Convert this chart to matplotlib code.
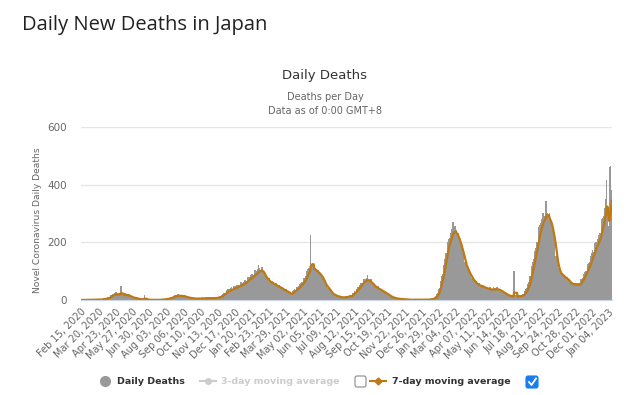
import numpy as np
import pandas as pd
import matplotlib
matplotlib.use("Agg")
import matplotlib.pyplot as plt
from matplotlib.patches import FancyBboxPatch

plt.rcParams['font.family'] = ['DejaVu Sans']

start_date = '2020-02-15'
tick_step = 34  # one x label every 34 days

# daily deaths, one row per week (weeks start on a Saturday)
deaths_2020 = [
    [0, 0, 0, 0, 1, 0, 0], [0, 1, 0, 1, 0, 1, 0], [1, 0, 1, 2, 0, 1, 1],
    [1, 0, 1, 1, 2, 1, 0], [2, 1, 1, 2, 1, 2, 2], [1, 2, 1, 2, 1, 2, 1],
    [2, 1, 3, 4, 3, 4, 5], [4, 5, 4, 7, 8, 6, 9], [10, 9, 8, 14, 16, 17, 18],
    [15, 18, 16, 22, 24, 21, 25], [18, 14, 13, 20, 22, 19, 21], [20, 17, 48, 22, 14, 18, 17],
    [19, 15, 12, 20, 22, 18, 20], [16, 12, 11, 17, 18, 14, 15], [11, 8, 7, 10, 11, 8, 9],
    [7, 5, 4, 6, 8, 6, 5], [4, 2, 3, 3, 4, 2, 3], [2, 3, 1, 3, 2, 4, 3],
    [17, 1, 2, 1, 2, 1, 0], [1, 0, 1, 2, 1, 1, 1], [0, 1, 1, 1, 2, 1, 1],
    [0, 0, 1, 1, 0, 1, 0], [1, 0, 1, 1, 2, 1, 1], [1, 2, 1, 3, 2, 3, 2],
    [3, 2, 3, 5, 5, 4, 6], [5, 4, 6, 8, 9, 7, 10], [9, 8, 10, 13, 15, 14, 15],
    [12, 14, 11, 17, 18, 15, 16], [15, 12, 10, 16, 17, 14, 15], [13, 9, 8, 12, 14, 11, 12],
    [10, 7, 6, 9, 9, 8, 7], [7, 5, 4, 6, 8, 6, 6], [6, 4, 3, 5, 6, 5, 6],
    [5, 4, 4, 6, 6, 5, 5], [6, 4, 3, 5, 7, 5, 5], [5, 4, 5, 7, 7, 6, 8],
    [6, 5, 4, 7, 8, 6, 6], [7, 5, 4, 6, 7, 6, 7], [6, 5, 6, 8, 9, 7, 8],
    [9, 7, 8, 11, 12, 11, 13], [14, 12, 13, 20, 22, 21, 24], [24, 22, 21, 30, 33, 31, 35],
    [33, 28, 27, 38, 40, 36, 42], [38, 34, 30, 44, 47, 41, 46], [43, 37, 35, 50, 52, 48, 51],
    [50, 42, 40, 56, 60, 55, 58],
]
deaths_2021 = [
    [54, 48, 45, 62, 68, 63, 66], [64, 56, 53, 74, 79, 73, 77], [75, 64, 60, 84, 90, 85, 88],
    [84, 72, 70, 95, 102, 96, 99], [94, 80, 78, 106, 118, 104, 108], [102, 88, 84, 110, 112, 104, 100],
    [90, 72, 66, 84, 88, 80, 80], [70, 58, 52, 70, 74, 66, 65], [60, 50, 46, 62, 64, 58, 59],
    [53, 44, 40, 55, 56, 51, 51], [46, 38, 35, 48, 50, 45, 46], [40, 32, 29, 40, 41, 36, 34],
    [32, 26, 24, 33, 35, 30, 30], [26, 20, 17, 24, 25, 22, 20], [24, 21, 20, 30, 33, 32, 36],
    [34, 30, 29, 41, 45, 42, 45], [46, 40, 38, 54, 58, 55, 59], [60, 52, 50, 70, 75, 72, 76],
    [82, 74, 70, 98, 105, 98, 103], [108, 96, 90, 225, 118, 112, 116], [112, 96, 90, 110, 118, 108, 104],
    [100, 86, 82, 100, 104, 96, 94], [88, 74, 70, 84, 86, 80, 78], [66, 52, 46, 58, 60, 52, 50],
    [44, 36, 32, 40, 42, 36, 34], [28, 22, 18, 24, 24, 20, 19], [18, 14, 12, 16, 17, 14, 14],
    [13, 10, 9, 12, 12, 10, 11], [10, 8, 7, 10, 10, 9, 9], [10, 8, 8, 11, 12, 10, 11],
    [12, 10, 9, 13, 14, 12, 14], [16, 14, 15, 22, 24, 23, 26], [28, 25, 24, 36, 38, 38, 42],
    [44, 38, 36, 52, 56, 54, 58], [58, 52, 50, 68, 72, 68, 71], [66, 58, 55, 74, 86, 72, 70],
    [66, 54, 50, 66, 70, 62, 60], [54, 44, 40, 52, 54, 46, 46], [44, 36, 32, 42, 46, 40, 40],
    [36, 30, 27, 36, 37, 32, 33], [28, 22, 20, 28, 29, 25, 23], [21, 16, 14, 20, 20, 17, 16],
    [13, 9, 8, 11, 11, 9, 9], [8, 5, 5, 7, 7, 5, 5], [5, 3, 3, 4, 5, 4, 4],
    [3, 2, 2, 4, 3, 3, 3], [2, 1, 1, 3, 2, 2, 2], [1, 1, 0, 2, 1, 1, 1],
    [1, 0, 1, 1, 2, 1, 1], [1, 1, 0, 1, 1, 2, 1], [0, 1, 1, 1, 2, 1, 1],
    [1, 0, 1, 1, 1, 2, 1],
]
deaths_2022 = [
    [1, 1, 0, 1, 2, 1, 2], [2, 1, 1, 3, 2, 3, 3], [4, 3, 3, 5, 6, 6, 8],
    [10, 11, 12, 18, 22, 24, 29], [36, 38, 40, 56, 64, 70, 80], [90, 86, 90, 120, 132, 140, 150],
    [160, 150, 150, 190, 200, 205, 210], [215, 190, 185, 230, 245, 235, 240], [268, 215, 200, 240, 255, 245, 240],
    [235, 200, 185, 220, 230, 215, 210], [200, 165, 150, 180, 185, 170, 165], [150, 120, 110, 130, 132, 118, 115],
    [110, 90, 80, 98, 100, 94, 90], [85, 68, 62, 76, 78, 70, 68], [66, 54, 50, 60, 64, 57, 55],
    [56, 46, 42, 52, 56, 50, 48], [50, 42, 38, 47, 50, 45, 44], [46, 36, 34, 42, 45, 40, 39],
    [40, 34, 30, 39, 42, 37, 36], [38, 32, 30, 38, 42, 38, 36], [40, 34, 32, 40, 42, 36, 35],
    [38, 30, 28, 35, 36, 32, 30], [28, 22, 20, 26, 27, 23, 22], [20, 16, 14, 18, 19, 16, 16],
    [15, 12, 11, 14, 14, 12, 13], [14, 11, 12, 100, 13, 12, 13], [14, 11, 10, 14, 15, 13, 14],
    [13, 11, 11, 15, 17, 16, 18], [18, 17, 18, 26, 30, 30, 36], [40, 36, 38, 54, 60, 60, 68],
    [80, 72, 76, 105, 118, 120, 130], [140, 128, 130, 170, 180, 180, 190], [200, 185, 190, 235, 250, 250, 260],
    [265, 230, 225, 280, 300, 290, 300], [290, 250, 245, 310, 343, 310, 300], [300, 255, 240, 290, 300, 280, 270],
    [270, 220, 200, 240, 240, 220, 210], [190, 150, 130, 150, 140, 125, 120], [110, 88, 80, 100, 100, 92, 90],
    [92, 76, 70, 86, 88, 80, 80], [80, 66, 62, 76, 78, 72, 70], [68, 54, 50, 60, 62, 56, 56],
    [60, 50, 46, 56, 58, 54, 54], [58, 48, 45, 56, 58, 52, 54], [56, 52, 50, 64, 70, 68, 72],
    [76, 70, 68, 88, 96, 94, 100], [100, 92, 90, 116, 124, 120, 128], [130, 120, 118, 150, 162, 160, 170],
    [165, 150, 145, 180, 195, 190, 200], [195, 180, 175, 210, 225, 220, 230], [230, 215, 210, 260, 280, 270, 285],
    [290, 270, 265, 320, 350, 330, 416], [320, 250, 180, 160, 260, 420, 462],
]
deaths_2023 = [[430, 380, 300]]

daily = [v for rows in (deaths_2020, deaths_2021, deaths_2022, deaths_2023)
         for row in rows for v in row]
dates = pd.date_range(start_date, periods=len(daily), freq='D')
deaths = pd.Series(daily, index=dates)
avg7 = deaths.rolling(7, min_periods=1).mean()

W, H = 640, 395
fig = plt.figure(figsize=(W / 100, H / 100), dpi=100)

# page title and chart titles
fig.text(22 / W, 1 - 25 / H, 'Daily New Deaths in Japan', fontsize=14.5,
         family='Open Sans', color='#222222', va='center')
fig.text(325 / W, 1 - 76 / H, 'Daily Deaths', fontsize=9.5, color='#333333',
         ha='center', va='center')
fig.text(325 / W, 1 - 97 / H, 'Deaths per Day', fontsize=7, color='#666666',
         ha='center', va='center')
fig.text(325 / W, 1 - 111 / H, 'Data as of 0:00 GMT+8', fontsize=7, color='#666666',
         ha='center', va='center')

ax = fig.add_axes([81 / W, 1 - 300 / H, (612 - 81) / W, (300 - 127) / H])
x = np.arange(len(daily))
# bars are only half a pixel wide here: no snapping and no antialiasing,
# so every pixel column shows one solid bar like the reference
ax.bar(x, deaths.values, width=1.0, color='#999999', linewidth=0, snap=False,
       antialiased=False)
ax.plot(x, avg7.values, color='#c07810', lw=1.6)

ax.set_xlim(-0.5, len(daily) - 0.5)
ax.set_ylim(0, 600)
ax.set_yticks([0, 200, 400, 600])
ax.grid(axis='y', color='#e6e6e6', lw=1)
ax.set_axisbelow(True)
for side in ['top', 'right', 'left']:
    ax.spines[side].set_visible(False)
ax.spines['bottom'].set_color('#ccd6eb')
ax.tick_params(axis='y', length=0, colors='#666666', labelsize=7.5, pad=10)

ticks = x[::tick_step]
ax.set_xticks(ticks)
ax.set_xticklabels([d.strftime('%b %d, %Y') for d in dates[ticks]], rotation=45,
                   ha='right', va='top', rotation_mode='anchor', fontsize=7, color='#666666')
ax.tick_params(axis='x', length=0, pad=5)

fig.text(38 / W, 1 - 220 / H, 'Novel Coronavirus Daily Deaths', rotation=90, fontsize=6.6,
         color='#666666', ha='center', va='center')

# legend, drawn in pixel coordinates
lax = fig.add_axes([0, 0, 1, 1])
lax.set_xlim(0, W)
lax.set_ylim(H, 0)
lax.axis('off')
ly = 381
lax.plot([105], [ly], 'o', ms=7, color='#999999')
lax.text(117, ly, 'Daily Deaths', fontsize=6.8, weight='bold', color='#333333', va='center')
lax.plot([200, 216], [ly, ly], color='#cccccc', lw=1.5)
lax.plot([208], [ly], 'o', ms=4, color='#cccccc')
lax.text(221, ly, '3-day moving average', fontsize=6.8, weight='bold', color='#cccccc', va='center')
lax.add_patch(FancyBboxPatch((355, ly - 5), 11, 11, boxstyle='round,pad=0,rounding_size=2',
                             fc='white', ec='#8a8a8a', lw=0.8))
lax.plot([370, 386], [ly, ly], color='#c07810', lw=1.5)
lax.plot([378], [ly], 'D', ms=3.5, color='#c07810')
lax.text(392, ly, '7-day moving average', fontsize=6.8, weight='bold', color='#333333', va='center')
lax.add_patch(FancyBboxPatch((526, ly - 5), 12, 12, boxstyle='round,pad=0,rounding_size=2',
                             fc='#1a7cf0', ec='#1a7cf0', lw=0.8))
lax.plot([529, 531.5, 536], [ly + 1, ly + 4, ly - 2.5], color='white', lw=1.3)

plt.savefig('out.png', dpi=100)
